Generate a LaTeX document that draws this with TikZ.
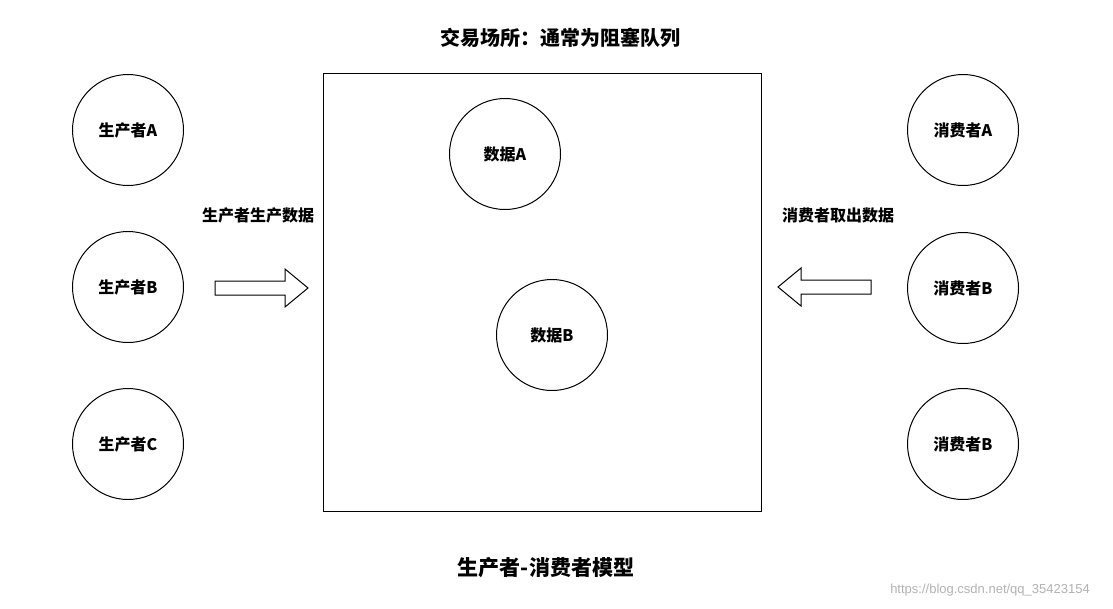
\documentclass[tikz,border=0pt]{standalone}
\usepackage{fontspec}
\setmainfont{Liberation Sans}
\newfontfamily\cjk{Noto Sans CJK SC}
\begin{document}
\begin{tikzpicture}[x=1pt,y=-1pt,
  circ/.style={draw,circle,minimum size=111pt,inner sep=0pt,line width=1pt,font=\cjk\bfseries\fontsize{16}{18}\selectfont},
  lbl/.style={font=\cjk\bfseries\fontsize{16}{18}\selectfont},
  bigarrow/.style={draw,line width=1pt,line join=miter}]
\useasboundingbox (0,0) rectangle (1113,608);
\node[draw,line width=1pt,minimum width=438pt,minimum height=438pt,inner sep=0pt] (box) at (542,292) {};
\node[lbl,font=\cjk\bfseries\fontsize{20}{22}\selectfont] (title) at (560,38) {交易场所：通常为阻塞队列};
\node[lbl,font=\cjk\bfseries\fontsize{21}{23}\selectfont] (bottom) at (546,568) {生产者-消费者模型};
\node[circ] (pa) at (128,130) {生产者A};
\node[circ] (pb) at (128,287) {生产者B};
\node[circ] (pc) at (128,444) {生产者C};
\node[circ] (ca) at (963,130) {消费者A};
\node[circ] (cb) at (963,288) {消费者B};
\node[circ] (cc) at (963,444) {消费者B};
\node[circ] (da) at (505,154) {数据A};
\node[circ] (db) at (552,335) {数据B};
\node[lbl] (pl) at (258,215) {生产者生产数据};
\node[lbl] (cl) at (838,215) {消费者取出数据};
\draw[bigarrow] (215,281) -- (285,281) -- (285,269) -- (308,288) -- (285,307) -- (285,295) -- (215,295) -- cycle;
\draw[bigarrow] (871,280) -- (801,280) -- (801,268) -- (778,287) -- (801,306) -- (801,294) -- (871,294) -- cycle;
\node[text=gray!60,font=\fontsize{13}{15}\selectfont] (wm) at (990,590) {https://blog.csdn.net/qq\_35423154};
\end{tikzpicture}
\end{document}
